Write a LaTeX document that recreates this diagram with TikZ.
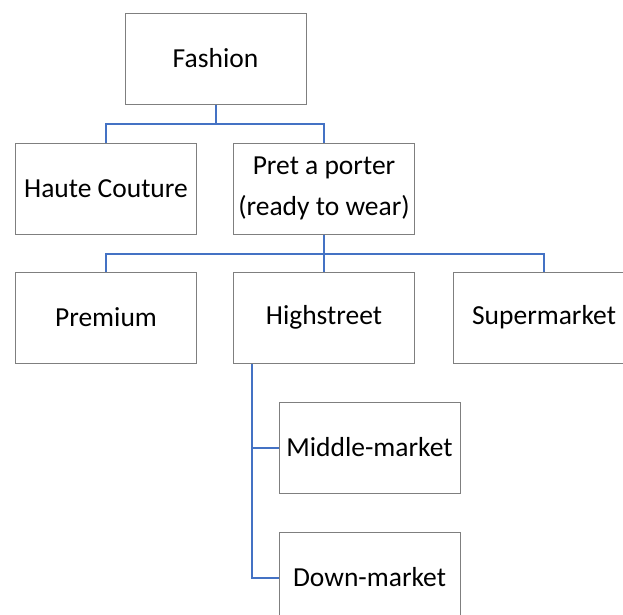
\documentclass[tikz,border=0pt]{standalone}
\usepackage{fontspec}
\setmainfont{Carlito}
\usetikzlibrary{positioning}

\definecolor{linkblue}{HTML}{4472C4}
\definecolor{boxgray}{HTML}{7F7F7F}

\begin{document}
\begin{tikzpicture}[x=1pt, y=1pt,
    node distance=38pt,
    box/.style={draw=boxgray, line width=1pt, fill=white, minimum width=181pt, minimum height=91pt, inner sep=2pt, font=\fontsize{27.5}{41}\selectfont, align=center},
    link/.style={draw=linkblue, line width=2pt},
]
\useasboundingbox (0,0) rectangle (623,-614);
% top level
\node[box] (fashion) at (215.5,-58.5) {Fashion};
\node[box, below=of fashion, xshift=-109.5pt] (haute) {Haute Couture};
\node[box, below=of fashion, xshift=108.5pt] (pret) {Pret a porter\\(ready to wear)};
\draw[link] (fashion.south) -- ++(0,-19) -| (haute.north);
\draw[link] (fashion.south) -- ++(0,-19) -| (pret.north);
% market levels
\node[box, below=37pt of pret] (high) {Highstreet};
\node[box, left=36pt of high] (premium) {Premium};
\node[box, right=38pt of high] (super) {Supermarket};
\draw[link] (pret.south) -- ++(0,-19) -| (premium.north);
\draw[link] (pret.south) -- (high.north);
\draw[link] (pret.south) -- ++(0,-19) -| (super.north);
% highstreet split
\node[box, below=of high, xshift=45.5pt] (middle) {Middle-market};
\node[box, below=of middle] (down) {Down-market};
\coordinate (hs) at ([xshift=19pt]high.south west);
\draw[link] (hs) |- (down.west);
\draw[link] (hs |- middle.west) -- (middle.west);
\end{tikzpicture}
\end{document}
